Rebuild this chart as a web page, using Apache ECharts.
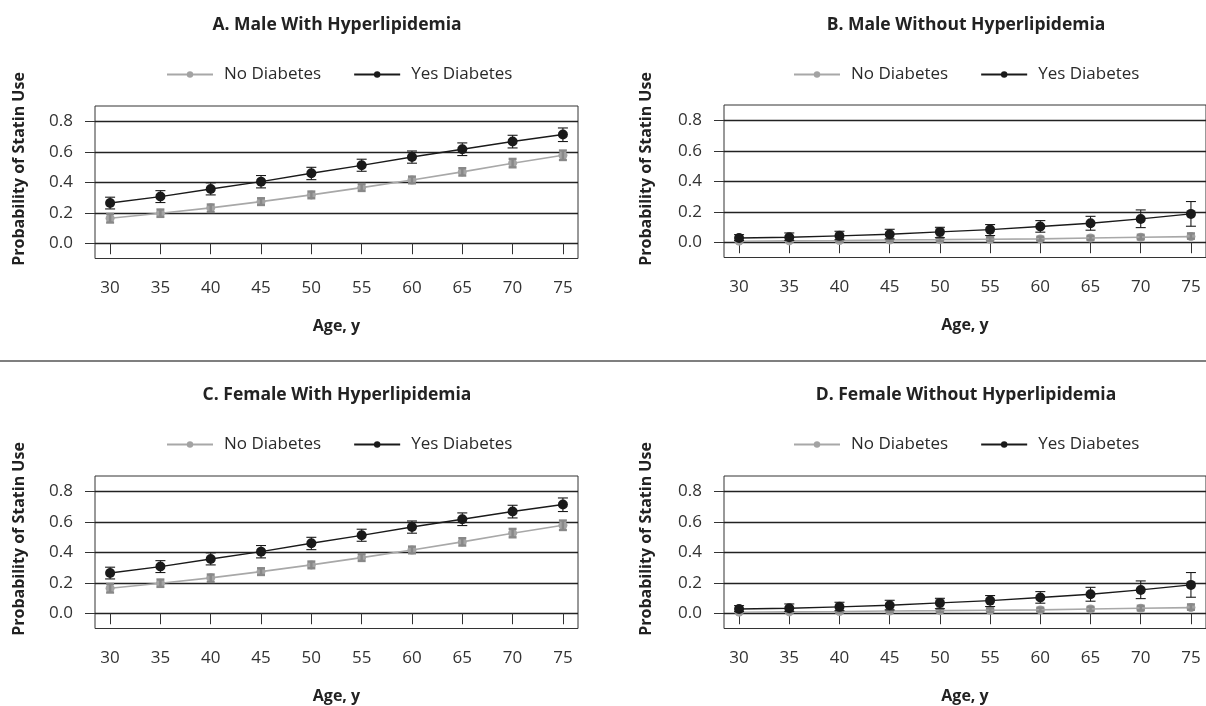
<!DOCTYPE html>
<html>
<head>
<meta charset="utf-8">
<script src="https://cdn.jsdelivr.net/npm/echarts@6/dist/echarts.min.js"></script>
<style>
html,body{margin:0;padding:0;background:#fff;}
#chart{width:1206px;height:706px;}
</style>
</head>
<body>
<div id="chart"></div>
<script>
// ---- data ----
const ages = [30, 35, 40, 45, 50, 55, 60, 65, 70, 75];
const yTicks = [0, 0.2, 0.4, 0.6, 0.8];
const xTicks = [30, 35, 40, 45, 50, 55, 60, 65, 70, 75];
const seriesNames = ['No Diabetes', 'Yes Diabetes'];
const panelTitles = ['A. Male With Hyperlipidemia', 'B. Male Without Hyperlipidemia',
                     'C. Female With Hyperlipidemia', 'D. Female Without Hyperlipidemia'];

// Panel A
const aNo     = [0.164, 0.197, 0.232, 0.273, 0.317, 0.365, 0.415, 0.468, 0.525, 0.577];
const aNoLo   = [0.136, 0.173, 0.205, 0.251, 0.295, 0.343, 0.393, 0.444, 0.498, 0.546];
const aNoHi   = [0.192, 0.221, 0.254, 0.295, 0.339, 0.389, 0.437, 0.492, 0.553, 0.608];
const aYes    = [0.264, 0.306, 0.356, 0.404, 0.459, 0.511, 0.566, 0.616, 0.667, 0.713];
const aYesLo  = [0.225, 0.267, 0.317, 0.363, 0.417, 0.472, 0.525, 0.575, 0.625, 0.667];
const aYesHi  = [0.302, 0.345, 0.396, 0.444, 0.498, 0.551, 0.605, 0.658, 0.708, 0.756];
// Panel B
const bNo     = [0.007, 0.009, 0.011, 0.015, 0.017, 0.020, 0.022, 0.028, 0.033, 0.037];
const bNoLo   = [0.002, 0.003, 0.004, 0.006, 0.007, 0.009, 0.011, 0.015, 0.019, 0.023];
const bNoHi   = [0.013, 0.016, 0.019, 0.024, 0.028, 0.032, 0.036, 0.042, 0.049, 0.058];
const bYes    = [0.028, 0.033, 0.042, 0.052, 0.068, 0.083, 0.103, 0.125, 0.153, 0.186];
const bYesLo  = [0.011, 0.012, 0.017, 0.022, 0.030, 0.044, 0.066, 0.079, 0.096, 0.105];
const bYesHi  = [0.050, 0.061, 0.072, 0.085, 0.098, 0.116, 0.142, 0.170, 0.212, 0.267];
// Panel C
const cNo     = [0.164, 0.197, 0.232, 0.273, 0.317, 0.365, 0.415, 0.468, 0.525, 0.577];
const cNoLo   = [0.136, 0.173, 0.205, 0.251, 0.295, 0.343, 0.393, 0.444, 0.498, 0.546];
const cNoHi   = [0.192, 0.221, 0.254, 0.295, 0.339, 0.389, 0.437, 0.492, 0.553, 0.608];
const cYes    = [0.264, 0.306, 0.356, 0.404, 0.459, 0.511, 0.566, 0.616, 0.667, 0.713];
const cYesLo  = [0.225, 0.267, 0.317, 0.363, 0.417, 0.472, 0.525, 0.575, 0.625, 0.667];
const cYesHi  = [0.302, 0.345, 0.396, 0.444, 0.498, 0.551, 0.605, 0.658, 0.708, 0.756];
// Panel D
const dNo     = [0.007, 0.009, 0.011, 0.015, 0.017, 0.020, 0.022, 0.028, 0.033, 0.037];
const dNoLo   = [0.002, 0.003, 0.004, 0.006, 0.007, 0.009, 0.011, 0.015, 0.019, 0.023];
const dNoHi   = [0.013, 0.016, 0.019, 0.024, 0.028, 0.032, 0.036, 0.042, 0.049, 0.058];
const dYes    = [0.028, 0.033, 0.042, 0.052, 0.068, 0.083, 0.103, 0.125, 0.153, 0.186];
const dYesLo  = [0.011, 0.012, 0.017, 0.022, 0.030, 0.044, 0.066, 0.079, 0.096, 0.105];
const dYesHi  = [0.050, 0.061, 0.072, 0.085, 0.098, 0.116, 0.142, 0.170, 0.212, 0.267];

// ---- layout ----
const FONT = '"Open Sans", "DejaVu Sans", sans-serif';
const TXT = '#222';
const panels = [
  {left: 95,  top: 106, data: [aNo, aNoLo, aNoHi, aYes, aYesLo, aYesHi], title: panelTitles[0], cx: 337, ty: 25,  legL: 161, legT: 61, yname: [19, 169]},
  {left: 724, top: 105, data: [bNo, bNoLo, bNoHi, bYes, bYesLo, bYesHi], title: panelTitles[1], cx: 966, ty: 25,  legL: 788, legT: 61, yname: [646, 169]},
  {left: 95,  top: 476, data: [cNo, cNoLo, cNoHi, cYes, cYesLo, cYesHi], title: panelTitles[2], cx: 337, ty: 395, legL: 161, legT: 431, yname: [19, 539]},
  {left: 724, top: 476, data: [dNo, dNoLo, dNoHi, dYes, dYesLo, dYesHi], title: panelTitles[3], cx: 966, ty: 395, legL: 788, legT: 431, yname: [646, 539]}
];
const GW = 483, GH = 152.5;

const grid = [], xAxis = [], yAxis = [], series = [], legend = [], graphic = [];

function errRender(cap, color, width) {
  return function (params, api) {
    const x = api.value(0);
    const lo = api.coord([x, api.value(1)]);
    const hi = api.coord([x, api.value(2)]);
    const st = {stroke: color, lineWidth: width};
    return {
      type: 'group',
      children: [
        {type: 'line', shape: {x1: lo[0], y1: lo[1], x2: hi[0], y2: hi[1]}, style: st},
        {type: 'line', shape: {x1: lo[0] - cap, y1: lo[1], x2: lo[0] + cap, y2: lo[1]}, style: st},
        {type: 'line', shape: {x1: hi[0] - cap, y1: hi[1], x2: hi[0] + cap, y2: hi[1]}, style: st}
      ]
    };
  };
}

panels.forEach((p, i) => {
  grid.push({left: p.left, top: p.top, width: GW, height: GH, show: true,
             borderColor: '#333', borderWidth: 1, backgroundColor: 'transparent'});
  xAxis.push({
    type: 'value', gridIndex: i, min: 28.5, max: 76.5,
    axisLine: {show: false},
    axisTick: {show: true, length: 11, customValues: xTicks, lineStyle: {color: '#333', width: 1}},
    axisLabel: {customValues: xTicks, color: '#333', fontSize: 17, fontFamily: FONT, margin: 21},
    splitLine: {show: false},
    name: 'Age, y', nameLocation: 'middle', nameGap: 60,
    nameTextStyle: {fontSize: 16, fontWeight: 'bold', color: TXT, fontFamily: FONT}
  });
  yAxis.push({
    type: 'value', gridIndex: i, min: -0.1, max: 0.9,
    axisLine: {show: false},
    axisTick: {show: true, length: 10, customValues: yTicks, lineStyle: {color: '#333', width: 1}},
    axisLabel: {customValues: yTicks, color: '#333', fontSize: 17, fontFamily: FONT, margin: 22,
                formatter: v => v.toFixed(1)},
    splitLine: {show: true, lineStyle: {color: '#222', width: 1.3}}
  });
  const d = p.data;
  series.push({
    name: seriesNames[0], type: 'line', xAxisIndex: i, yAxisIndex: i,
    data: ages.map((a, k) => [a, d[0][k]]),
    symbol: 'circle', symbolSize: 9, showSymbol: true,
    lineStyle: {color: '#a8a8a8', width: 1.6}, itemStyle: {color: '#a3a3a3'},
    z: 3, animation: false
  });
  series.push({
    type: 'custom', xAxisIndex: i, yAxisIndex: i,
    data: ages.map((a, k) => [a, d[1][k], d[2][k]]),
    renderItem: errRender(4, '#888', 2.4), z: 4, animation: false, silent: true
  });
  series.push({
    name: seriesNames[1], type: 'line', xAxisIndex: i, yAxisIndex: i,
    data: ages.map((a, k) => [a, d[3][k]]),
    symbol: 'circle', symbolSize: 10, showSymbol: true,
    lineStyle: {color: '#1a1a1a', width: 1.4}, itemStyle: {color: '#1a1a1a'},
    z: 5, animation: false
  });
  series.push({
    type: 'custom', xAxisIndex: i, yAxisIndex: i,
    data: ages.map((a, k) => [a, d[4][k], d[5][k]]),
    renderItem: errRender(5, '#1a1a1a', 1.1), z: 6, animation: false, silent: true
  });
  legend.push({
    data: seriesNames, left: p.legL, top: p.legT, itemWidth: 46, itemHeight: 8, itemGap: 32,
    textStyle: {fontSize: 17, color: '#2a2a2a', fontFamily: FONT, padding: [0, 0, 0, 6]},
    selectedMode: false
  });
  graphic.push({type: 'text', x: p.cx, y: p.ty,
    style: {text: p.title, fill: TXT, font: 'bold 17.5px ' + FONT, textAlign: 'center', textVerticalAlign: 'middle'}});
  graphic.push({type: 'text', x: p.yname[0], y: p.yname[1], rotation: Math.PI / 2,
    style: {text: 'Probability of Statin Use', fill: TXT, font: 'bold 16px ' + FONT, textAlign: 'center', textVerticalAlign: 'middle'}});
});
graphic.push({type: 'line', shape: {x1: 0, y1: 361, x2: 1206, y2: 361}, style: {stroke: '#555', lineWidth: 1.6}});

const chart = echarts.init(document.getElementById('chart'), null, {renderer: 'canvas'});
chart.setOption({
  animation: false,
  backgroundColor: '#fff',
  grid, xAxis, yAxis, series, legend, graphic
});
</script>
</body>
</html>
